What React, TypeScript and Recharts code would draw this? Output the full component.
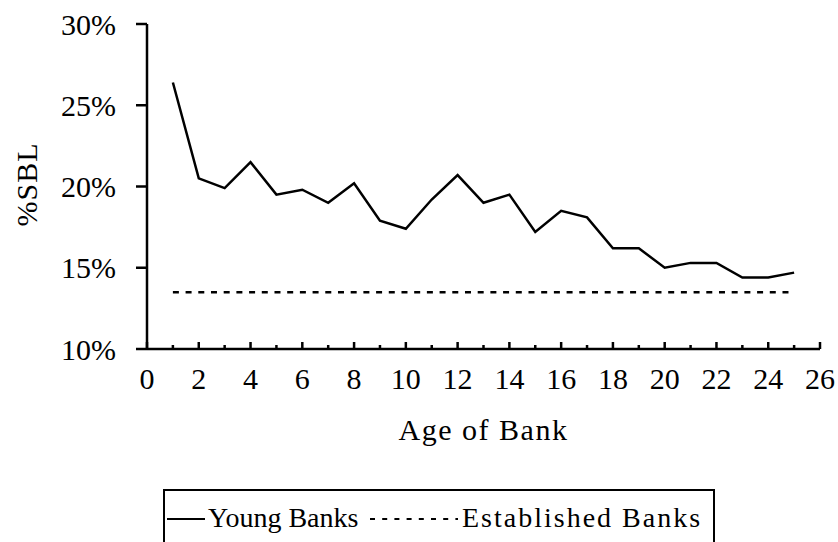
import React from "react";
import { LineChart, Line, XAxis, YAxis } from "recharts";

const ages = [1, 2, 3, 4, 5, 6, 7, 8, 9, 10, 11, 12, 13, 14, 15, 16, 17, 18, 19, 20, 21, 22, 23, 24, 25];
const youngBanks = [26.4, 20.5, 19.9, 21.5, 19.5, 19.8, 19.0, 20.2, 17.9, 17.4, 19.2, 20.7, 19.0, 19.5, 17.2, 18.5, 18.1, 16.2, 16.2, 15.0, 15.3, 15.3, 14.4, 14.4, 14.7];
const establishedBanks = [13.5, 13.5, 13.5, 13.5, 13.5, 13.5, 13.5, 13.5, 13.5, 13.5, 13.5, 13.5, 13.5, 13.5, 13.5, 13.5, 13.5, 13.5, 13.5, 13.5, 13.5, 13.5, 13.5, 13.5, 13.5];
const xTicks = [0, 1, 2, 3, 4, 5, 6, 7, 8, 9, 10, 11, 12, 13, 14, 15, 16, 17, 18, 19, 20, 21, 22, 23, 24, 25, 26];
const yTicks = [10, 15, 20, 25, 30];

const data = ages.map((age, i) => ({ age, young: youngBanks[i], established: establishedBanks[i] }));

const FONT = "'Liberation Serif', 'Times New Roman', serif";
const FS = 30;

function AgeTick({ x, y, payload }: any) {
  const v = payload.value;
  const major = v % 2 === 0;
  return (
    <g>
      <line x1={x} x2={x} y1={y} y2={y - (major ? 7 : 4)} stroke="#000" strokeWidth={2.5} />
      {major && (
        <text x={x} y={y + 40} textAnchor="middle" fontFamily={FONT} fontSize={FS} fill="#000">
          {v}
        </text>
      )}
    </g>
  );
}

function XTitle({ viewBox }: any) {
  const cx = viewBox.x + viewBox.width / 2;
  return (
    <text x={cx} y={viewBox.y + 91} textAnchor="middle" fontFamily={FONT} fontSize={FS} letterSpacing={1.5} fill="#000">
      Age of Bank
    </text>
  );
}

function YTitle({ viewBox }: any) {
  const x = viewBox.x + 37;
  const y = viewBox.y + viewBox.height / 2 - 2;
  return (
    <text x={x} y={y} transform={`rotate(-90 ${x} ${y})`} textAnchor="middle" fontFamily={FONT} fontSize={FS} letterSpacing={1} fill="#000">
      %SBL
    </text>
  );
}

export default function App() {
  return (
    <div style={{ position: "absolute", left: 0, top: 0, width: 838, height: 542, overflow: "hidden", background: "#fff" }}>
      <LineChart width={838} height={542} data={data} margin={{ top: 24, right: 18, bottom: 0, left: 0 }}>
        <XAxis
          dataKey="age"
          type="number"
          domain={[0, 26]}
          ticks={xTicks}
          interval={0}
          tickSize={0}
          tickMargin={0}
          tickLine={false}
          height={193}
          axisLine={{ stroke: "#000", strokeWidth: 2.5 }}
          tick={<AgeTick />}
          label={<XTitle />}
        />
        <XAxis xAxisId="top" orientation="top" type="number" domain={[0, 26]} height={0} tick={false} tickLine={false} axisLine={{ stroke: "#000", strokeWidth: 2.5 }} />
        <YAxis
          type="number"
          domain={[10, 30]}
          ticks={yTicks}
          interval={0}
          width={147}
          tickSize={11}
          tickMargin={20}
          tickLine={{ stroke: "#000", strokeWidth: 2.5 }}
          axisLine={{ stroke: "#000", strokeWidth: 2.5 }}
          tickFormatter={(v) => `${v}%`}
          tick={{ fill: "#000", fontFamily: FONT, fontSize: FS }}
          label={<YTitle />}
        />
        <YAxis yAxisId="right" orientation="right" type="number" domain={[10, 30]} width={0} tick={false} tickLine={false} axisLine={{ stroke: "#000", strokeWidth: 2.5 }} />
        <Line dataKey="young" stroke="#000" strokeWidth={2.5} dot={false} isAnimationActive={false} />
        <Line dataKey="established" stroke="#000" strokeWidth={2.5} strokeDasharray="6 6.7" dot={false} isAnimationActive={false} />
      </LineChart>
      <div
        style={{
          position: "absolute",
          left: 163,
          top: 489,
          width: 552,
          height: 70,
          border: "2.5px solid #000",
          boxSizing: "border-box",
          fontFamily: FONT,
          fontSize: 28,
          color: "#000",
        }}
      >
        <svg width={40} height={10} style={{ position: "absolute", left: 2, top: 23 }}>
          <line x1={0} x2={38} y1={5} y2={5} stroke="#000" strokeWidth={2} />
        </svg>
        <span style={{ position: "absolute", left: 43, top: 11, lineHeight: "32px", whiteSpace: "nowrap" }}>Young Banks</span>
        <svg width={90} height={10} style={{ position: "absolute", left: 205, top: 23 }}>
          <line x1={0} x2={88} y1={5} y2={5} stroke="#000" strokeWidth={2} strokeDasharray="5 7.2" />
        </svg>
        <span style={{ position: "absolute", left: 297, top: 11, lineHeight: "32px", whiteSpace: "nowrap", letterSpacing: 2 }}>
          Established Banks
        </span>
      </div>
    </div>
  );
}
